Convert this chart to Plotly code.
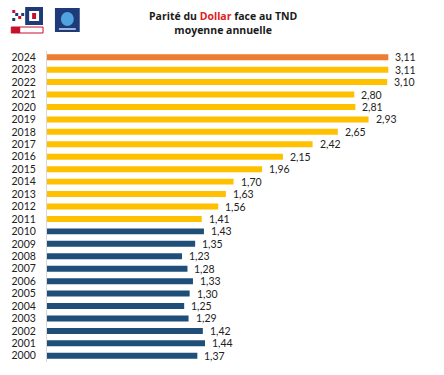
import plotly.graph_objects as go

years = [str(y) for y in range(2000, 2025)]
values = [1.37, 1.44, 1.42, 1.29, 1.25, 1.30, 1.33, 1.28, 1.23, 1.35, 1.43,
          1.41, 1.56, 1.63, 1.70, 1.96, 2.15, 2.42, 2.65, 2.93, 2.81, 2.80,
          3.10, 3.11, 3.11]
labels = [f"{v:.2f}".replace(".", ",") for v in values]

BLUE = "#1F4E79"
YELLOW = "#FFC000"
ORANGE = "#ED7D31"
colors = [BLUE if int(y) <= 2010 else (ORANGE if int(y) == 2024 else YELLOW) for y in years]

fig = go.Figure()
fig.add_trace(go.Bar(
    x=values, y=years, orientation="h",
    marker=dict(color=colors, line=dict(width=0)),
    hoverinfo="skip",
))

for i, (v, t) in enumerate(zip(values, labels)):
    fig.add_annotation(x=v, y=i, text=t, showarrow=False, xanchor="left",
                       xshift=6, borderpad=0, font=dict(size=10.5, color="#222222",
                                           family="Lato"))

# title
fig.add_annotation(xref="paper", yref="paper", x=0.46, y=1.0, yshift=28,
                   text="<b>Parité du <span style='color:#E0201B'>Dollar</span> face au TND</b><br><b>moyenne annuelle</b>",
                   showarrow=False, xanchor="center", yanchor="middle",
                   font=dict(size=10.5, color="#1a1a1a", family="Open Sans"))

# logos (decorative)
def px(x):
    return (x - 44) / 386

def py(y):
    return 1 + (51 - y) / 311

def rect(x0, y0, x1, y1, fill, line=None, kind="rect"):
    return dict(type=kind, xref="paper", yref="paper",
                x0=px(x0), x1=px(x1), y0=py(y1), y1=py(y0),
                fillcolor=fill, line=line or dict(width=0))

shapes = [
    rect(8, 27, 40, 33, "white", dict(color="#C8102E", width=1)),
    rect(8, 27, 17, 33, "#C8102E"),
    rect(22, 7, 40, 25, "#1F3A78"),
    rect(26, 11, 36, 21, "white"),
    rect(29, 13, 33, 19, "#C8102E"),
    rect(9, 10, 12, 13, "#C8102E"),
    rect(12, 13, 15, 16, "#1F3A78"),
    rect(15, 16, 18, 19, "#C8102E"),
    rect(18, 13, 21, 16, "#1F3A78"),
    rect(9, 18, 12, 21, "#1F3A78"),
    rect(52, 8, 77, 32, "#1F3A78"),
    rect(58, 12, 71, 26, "#4FA3E0", kind="circle"),
    rect(56, 28, 73, 30, "#9FB6D8"),
]
fig.update_layout(shapes=shapes)

fig.update_layout(
    width=444, height=375,
    margin=dict(l=44, r=14, t=51, b=13),
    paper_bgcolor="white", plot_bgcolor="white",
    separators=", ",
    bargap=0.52,
    showlegend=False,
    font=dict(family="Lato", color="#222222"),
    xaxis=dict(range=[0, 3.49], visible=False),
    yaxis=dict(type="category", categoryorder="array", categoryarray=years,
               range=[-0.5, 24.5], tickmode="array", tickvals=years, ticktext=years,
               showline=True, linecolor="#D9D9D9", linewidth=1,
               showgrid=False, ticks="", ticklabelstandoff=8,
               tickfont=dict(size=10.5, color="#222222", family="Lato")),
)

fig.write_html("out.html", config={"displayModeBar": False},
               post_script="document.body.style.margin='0';")
